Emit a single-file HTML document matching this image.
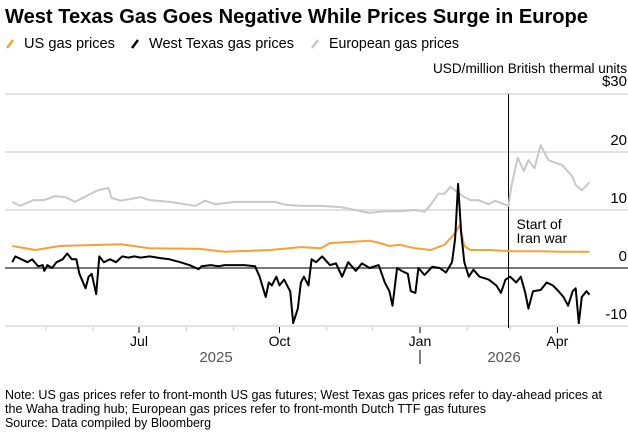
<!DOCTYPE html>
<html><head><meta charset="utf-8">
<style>
html,body{margin:0;padding:0;background:#fff;}
body{width:628px;height:434px;overflow:hidden;font-family:"Liberation Sans",Arial,sans-serif;}
svg text{font-family:"Liberation Sans",Arial,sans-serif;}
</style></head>
<body>
<svg id="chart" width="628" height="434" viewBox="0 0 628 434" xmlns="http://www.w3.org/2000/svg">
<text x="5" y="23" font-size="20.5" font-weight="bold" fill="#000" textLength="583" lengthAdjust="spacingAndGlyphs">West Texas Gas Goes Negative While Prices Surge in Europe</text>
<g font-size="15" fill="#000">
 <g><line x1="7" y1="48" x2="13" y2="40" stroke="#f7a033" stroke-width="2.5"/><text x="24" y="48" textLength="91" lengthAdjust="spacingAndGlyphs">US gas prices</text></g>
 <g><line x1="132" y1="48" x2="138" y2="40" stroke="#000" stroke-width="2.5"/><text x="149" y="48" textLength="145" lengthAdjust="spacingAndGlyphs">West Texas gas prices</text></g>
 <g><line x1="312" y1="48" x2="318" y2="40" stroke="#c8c8c8" stroke-width="2.5"/><text x="329" y="48" textLength="130" lengthAdjust="spacingAndGlyphs">European gas prices</text></g>
</g>
<text x="627" y="73" font-size="13.5" text-anchor="end" fill="#000" textLength="194" lengthAdjust="spacingAndGlyphs">USD/million British thermal units</text>
<g id="grid"></g>
<g id="series"></g>
<g id="xaxis"></g>
<g font-size="12.5" fill="#000">
 <text x="5" y="399" textLength="597" lengthAdjust="spacingAndGlyphs">Note: US gas prices refer to front-month US gas futures; West Texas gas prices refer to day-ahead prices at</text>
 <text x="5" y="413" textLength="481" lengthAdjust="spacingAndGlyphs">the Waha trading hub; European gas prices refer to front-month Dutch TTF gas futures</text>
 <text x="5" y="427" textLength="206" lengthAdjust="spacingAndGlyphs">Source: Data compiled by Bloomberg</text>
</g>
</svg>
<script>
// days since 2025-01-01
const blackDays=[98,100,104,108,111,115,118,119,121,124,127,131,134,137,140,142,146,148,150,153,155,158,162,166,170,174,178,182,188,195,201,208,214,220,222,228,233,237,244,250,257,260,264,266,268,271,273,276,279,280,282,285,287,289,292,294,297,301,306,310,314,318,323,327,332,338,342,345,347,350,353,357,359,362,364,368,373,378,382,386,388,390,392,394,397,400,404,410,415,418,421,424,428,431,434,436,439,444,448,452,455,459,462,465,467,469,471,474,476];
const blackVals=[1,2,1.5,1,1.5,0.3,0.5,-0.5,0.5,0,1,1.5,2.5,1.5,1.5,-1,-3.5,-1.5,-1,-4.5,2,1,1.5,1,2,1.8,2,1.8,2,1.7,1.5,1,0.5,-0.2,0.3,0.5,0.3,0.5,0.5,0.5,0.3,-1.5,-5,-2.5,-3,-1.5,-3,-2,-3.5,-4,-9.5,-7,-2.5,-1.5,-3,1.5,1,2,0.5,0.8,-1.5,1,-0.5,0.8,0,0.5,-2.5,-4,-6.5,0,-0.5,-1,-4,-4.3,0,-1.2,0.2,0,-0.8,1,5,14.5,6,1,-1.5,-0.3,-1.5,-2,-3,-4.3,-2,-1.5,-2.5,-1.5,-4.3,-7,-4,-3.8,-2.5,-3,-3.8,-5,-6.5,-4,-3.5,-9.5,-5,-4,-4.6];
const usDays=[98,113,129,169,188,221,237,267,287,300,306,332,339,345,352,362,372,381,388,391,394,398,411,424,444,457,476];
const usVals=[3.8,3.1,3.8,4.1,3.4,3.3,2.8,3.1,3.6,3.4,4.3,4.7,4.3,3.8,4,3.4,3.1,4,6,7.4,3.8,3.1,3.1,2.9,2.9,2.8,2.8];
const euDays=[98,103,112,119,126,133,139,148,154,161,163,169,182,188,201,218,224,231,244,260,270,277,287,300,313,332,342,352,362,368,372,377,381,385,388,393,398,403,410,414,421,423,425,429,433,436,440,444,449,454,458,462,465,467,471,476];
const euVals=[11.4,10.7,11.7,11.7,12.4,12.2,11.4,12.6,13.4,13.8,12.1,11.6,12.2,11.7,11.4,10.7,11.6,11,11.4,11.4,11.4,10.9,10.7,10.7,10.5,9.5,9.8,9.8,10,9.7,10.9,12.8,12.8,14,13.4,12.4,11.7,11.7,11,11.6,10.9,10.7,14.3,19,16.7,18.6,17.2,21.2,18.6,18.1,17.8,16.6,15.7,14.3,13.4,14.8];
const yTicks=[30,20,10,0,-10];
const yTickLabels=["$30","20","10","0","-10"];
const monthDays=[181,273,365,455];
const monthLabels=["Jul","Oct","Jan","Apr"];
const minorTickDays=[120,151,212,243,304,334,396,424];
const eventDay=423;

const NS="http://www.w3.org/2000/svg";
const xS=d=>139+(d-181)*1.527;
const yS=v=>268-v*5.8;
function mk(tag,attrs,parent){const e=document.createElementNS(NS,tag);for(const k in attrs)e.setAttribute(k,attrs[k]);parent.appendChild(e);return e;}
const grid=document.getElementById('grid'),series=document.getElementById('series'),xa=document.getElementById('xaxis');
yTicks.forEach((t,i)=>{
 const y=yS(t);
 const l=mk('line',{x1:5,x2:628,y1:y,y2:y,stroke:t===0?'#777':'#e2e2e2','stroke-width':2},grid);
 
 
 const tx=mk('text',{x:627,y:t===30?y-8:y-7,'font-size':15,'text-anchor':'end',fill:'#000'},grid);
 tx.textContent=yTickLabels[i];
 
 
});
const ev=mk('line',{x1:xS(eventDay),x2:xS(eventDay),y1:yS(30),y2:yS(-10)+2,stroke:'#000','stroke-width':1},grid);


const evt=mk('text',{x:xS(eventDay)+8,y:229,'font-size':14,fill:'#000'},grid);


const t1=mk('tspan',{x:xS(eventDay)+8,dy:0},evt);t1.textContent='Start of';
const t2=mk('tspan',{x:xS(eventDay)+8,dy:14},evt);t2.textContent='Iran war';
function line(days,vals,color,name){
 const d=days.map((dd,i)=>(i?'L':'M')+xS(dd).toFixed(1)+','+yS(vals[i]).toFixed(1)).join('');
 const p=mk('path',{d:d,fill:'none',stroke:color,'stroke-width':2,'stroke-linejoin':'round'},series);
 
 
}
line(euDays,euVals,'#c8c8c8','europe-gas-line');
line(usDays,usVals,'#f7a033','us-gas-line');
line(blackDays,blackVals,'#000','west-texas-gas-line');
monthDays.forEach((d,i)=>{
 const x=xS(d);
 const tk=mk('line',{x1:x,x2:x,y1:327,y2:333,stroke:'#000','stroke-width':1},xa);
 
 
 const tx=mk('text',{x:x,y:346,'font-size':14,'text-anchor':'middle',fill:'#000'},xa);
 tx.textContent=monthLabels[i];
 
 
});
minorTickDays.forEach(d=>{
 const x=xS(d);
 const tk=mk('line',{x1:x,x2:x,y1:327,y2:331,stroke:'#ccc','stroke-width':1},xa);
 
 
});
const sep=mk('line',{x1:xS(365),x2:xS(365),y1:350,y2:364,stroke:'#000','stroke-width':1},xa);


[['2025',216],['2026',504]].forEach(([t,x])=>{
 const tx=mk('text',{x:x,y:362,'font-size':15,'text-anchor':'middle',fill:'#555'},xa);
 tx.textContent=t;
 
 
});
</script>
</body></html>
